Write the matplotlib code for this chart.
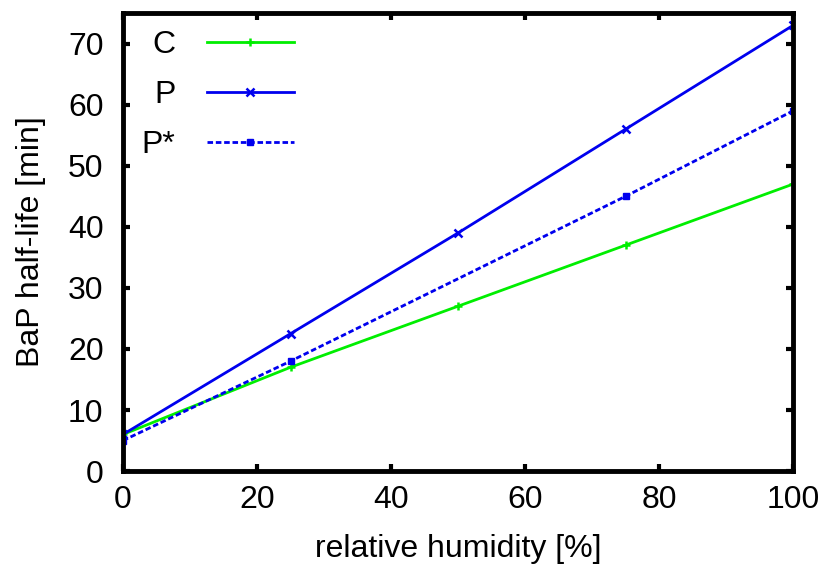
import matplotlib
matplotlib.use("Agg")
import matplotlib.pyplot as plt

plt.rcParams['font.family'] = ['Liberation Sans', 'DejaVu Sans']

humidity_C = [0, 25, 50, 75, 100]
halflife_C = [6, 17, 27, 37, 47]
humidity_P = [0, 25, 50, 75, 100]
halflife_P = [6, 22.5, 39, 56, 73]
humidity_Ps = [0, 25, 75, 100]
halflife_Ps = [5, 18, 45, 59]
labels = ["C", "P", "P*"]
xticks = [0, 20, 40, 60, 80, 100]
yticks = [0, 10, 20, 30, 40, 50, 60, 70]

FS = 23
fig = plt.figure(figsize=(8.27, 5.71), dpi=100)
ax = fig.add_axes([0.1487, 0.175, 0.959 - 0.1487, 0.977 - 0.175])

ax.plot(humidity_C, halflife_C, color='#00ee00', lw=2, marker='+', ms=6, mew=1.8, label=labels[0])
ax.plot(humidity_P, halflife_P, color='#0000ee', lw=2, marker='x', ms=6, mew=1.8, label=labels[1])
ax.plot(humidity_Ps, halflife_Ps, color='#0000ee', lw=2, ls=(0, (2, 1)), marker='s', ms=4.5, label=labels[2])

ax.set_xlim(0, 100)
ax.set_ylim(0, 75)
ax.set_xticks(xticks)
ax.set_yticks(yticks)
ax.tick_params(direction='in', length=5, width=3, top=True, right=True,
               labelsize=FS)
ax.tick_params(axis='x', pad=10)
ax.tick_params(axis='y', pad=14)
for s in ax.spines.values():
    s.set_linewidth(3.5)
ax.set_xlabel("relative humidity [%]", fontsize=FS, labelpad=14)
ax.set_ylabel("BaP half-life [min]", fontsize=FS, labelpad=16)

leg = ax.legend(loc='upper left', markerfirst=False, frameon=False, fontsize=FS,
                handlelength=2.7, handletextpad=1.0, labelspacing=0.62,
                bbox_to_anchor=(-0.015, 1.025), alignment='right')
for t in leg.get_texts():
    t.set_ha('right')

fig.savefig("out.png", dpi=100)
